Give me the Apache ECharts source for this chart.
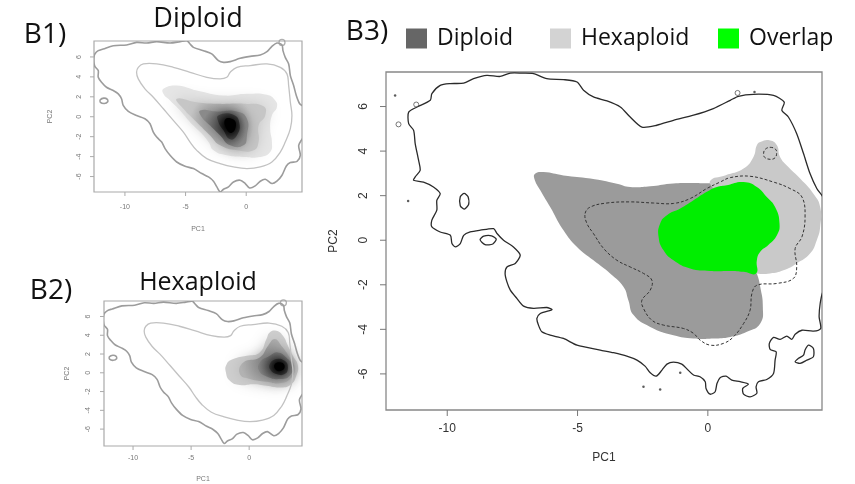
<!DOCTYPE html>
<html>
<head>
<meta charset="utf-8">
<script src="https://cdn.jsdelivr.net/npm/echarts@6/dist/echarts.min.js"></script>
<style>
html, body { margin: 0; padding: 0; background: #fff; }
#chart { width: 855px; height: 484px; }
</style>
</head>
<body>
<div id="chart"></div>
<script>
// axis ticks and extents (PC units)
const xTicks = [-10, -5, 0];
const yTicks = [-6, -4, -2, 0, 2, 4, 6];
const b1XRange = [-12.55, 4.6];
const b1YRange = [-7.55, 7.6];
const b2XRange = [-12.5, 4.55];
const b2YRange = [-7.8, 7.65];
const b3XRange = [-12.35, 4.38];
const b3YRange = [-7.62, 7.55];

// B1 / B2 background contours (same in both small panels)
const smallOuter = [[-12.56,5.46],[-12.48,5.06],[-12.2,4.63],[-12.2,3.96],[-11.93,3.46],[-11.52,2.96],[-10.96,2.63],[-10.55,2.3],[-10.28,1.8],[-10.14,1.13],[-9.72,0.53],[-9.04,0.13],[-8.35,-0.2],[-7.93,-0.7],[-7.66,-1.54],[-7.38,-2.04],[-6.97,-2.54],[-6.69,-3.2],[-6.28,-3.87],[-5.73,-4.54],[-5.04,-4.97],[-4.35,-5.2],[-3.66,-5.7],[-3.11,-6.04],[-2.7,-6.47],[-2.42,-7.04],[-2.15,-7.54],[-1.87,-7.27],[-1.46,-7.04],[-1.05,-6.54],[-0.5,-6.37],[-0.08,-6.7],[0.28,-7.14],[0.74,-6.94],[1.16,-6.47],[1.57,-6.27],[2.12,-6.7],[2.53,-6.47],[2.95,-5.87],[3.31,-4.94],[3.64,-4.6],[4.19,-4.47],[4.46,-3.87],[4.33,-2.87],[4.74,-1.87],[4.74,0.96],[4.41,1.3],[4.13,2.13],[3.91,3.13],[3.64,4.13],[3.5,5.3],[3.22,5.96],[3.03,6.63],[2.95,7.2],[2.53,7.4],[2.12,7.06],[1.71,6.53],[1.16,6.2],[0.33,6.06],[-0.5,5.86],[-1.32,5.53],[-1.87,5.46],[-2.29,5.63],[-2.84,6.3],[-3.53,6.63],[-4.35,6.96],[-4.63,7.3],[-4.9,7.63],[-5.45,7.53],[-6.28,7.4],[-7.38,7.53],[-8.21,7.4],[-9.04,7.46],[-9.86,7.2],[-10.96,7.13],[-11.79,6.8],[-12.2,6.63],[-12.48,6.3],[-12.56,5.96]];
const smallLoop = [[-11.74,1.87],[-11.45,1.75],[-11.42,1.5],[-11.7,1.33],[-12.02,1.45],[-12.03,1.7]];
const smallSpeck = [[2.95,7.46]];
const smallInner = [[-8.9,4.96],[-8.48,5.3],[-7.38,5.3],[-6.01,4.96],[-4.63,4.46],[-3.25,3.96],[-2.15,3.8],[-1.6,3.96],[-1.32,4.46],[-0.77,4.96],[0.33,5.13],[1.71,5.3],[2.81,4.96],[3.36,4.3],[3.5,3.13],[3.64,1.46],[3.77,0.13],[3.64,-1.2],[3.22,-2.54],[2.81,-3.54],[2.12,-4.54],[1.16,-5.04],[0.06,-5.2],[-1.05,-5.04],[-2.15,-4.7],[-3.25,-4.2],[-4.08,-3.37],[-4.63,-2.54],[-5.18,-1.54],[-6.01,-0.37],[-6.83,0.8],[-7.66,1.96],[-8.35,2.8],[-8.9,3.8],[-9.04,4.46]];

// B1 diploid density, outer level to peak
const b1Density = [
  [[-6.83,2.8],[-5.73,3.13],[-4.08,2.63],[-1.87,2.13],[0.06,2.3],[1.71,2.2],[2.4,1.63],[2.53,0.96],[2.12,0.13],[1.98,-1.2],[2.12,-2.54],[1.98,-3.54],[1.16,-4.04],[-0.22,-4.04],[-1.6,-3.87],[-2.7,-3.37],[-3.11,-2.54],[-3.8,-1.54],[-4.63,-0.54],[-5.45,0.63],[-6.28,1.63],[-6.83,2.3]],
  [[-5.73,1.8],[-4.08,1.46],[-2.42,1.3],[-0.22,1.3],[1.43,1.06],[1.57,0.13],[1.02,-0.87],[1.02,-2.54],[0.61,-3.37],[-0.77,-3.37],[-2.15,-2.87],[-2.98,-1.87],[-4.08,-0.54],[-5.18,0.8]],
  [[-3.8,0.63],[-2.42,0.53],[-0.77,0.53],[0.06,-0.2],[0.06,-1.87],[-0.22,-2.87],[-1.32,-2.87],[-2.15,-1.87],[-2.98,-0.87],[-3.66,-0.04]],
  [[-2.29,0.13],[-1.05,0.2],[-0.55,-0.7],[-0.77,-1.87],[-1.32,-2.27],[-1.87,-1.37],[-2.29,-0.54]],
  [[-1.74,-0.27],[-1.05,-0.27],[-0.85,-0.94],[-1.18,-1.6],[-1.6,-1.27]]
];
// B2 hexaploid density
const b2Density = [
  [[-1.94,0.92],[-1.37,1.46],[-0.23,1.81],[0.91,2.17],[1.49,3.59],[1.77,4.3],[2.34,4.47],[2.91,3.94],[3.34,2.88],[3.77,1.81],[4.2,0.75],[4.06,-0.32],[3.63,-1.21],[2.77,-1.56],[1.49,-1.38],[0.34,-1.21],[-0.8,-1.31],[-1.66,-0.85],[-2.0,0.04]],
  [[-0.51,1.1],[0.91,1.63],[1.63,2.88],[2.2,3.59],[2.77,2.88],[3.49,1.63],[3.91,0.57],[3.63,-0.5],[2.77,-1.1],[1.49,-0.96],[0.06,-0.67],[-0.8,-0.14]],
  [[0.91,1.1],[1.77,1.81],[2.49,2.17],[3.2,1.63],[3.71,0.75],[3.49,-0.32],[2.63,-0.67],[1.49,-0.39],[0.86,0.21]],
  [[1.77,0.92],[2.34,1.46],[3.06,1.28],[3.34,0.57],[3.06,-0.14],[2.34,-0.14],[1.83,0.32]],
  [[2.2,0.92],[2.77,1.1],[3.06,0.67],[2.77,0.21],[2.29,0.32]]
];

// B3 region fills
const diploidFill = [[-6.62,2.99],[-6.31,3.06],[-5.54,2.91],[-4.51,2.77],[-3.49,2.54],[-2.98,2.39],[-2.21,2.42],[-1.45,2.54],[-0.68,2.57],[0.21,2.57],[0.47,2.65],[1.2,2.5],[1.85,2.25],[2.4,1.5],[2.6,0.7],[2.2,-0.15],[1.85,-0.6],[1.78,-1.3],[1.88,-1.49],[2.01,-2.09],[2.11,-2.99],[2.01,-3.74],[1.5,-4.11],[0.86,-4.34],[0.21,-4.41],[-0.55,-4.41],[-1.32,-4.26],[-2.21,-3.89],[-2.85,-3.36],[-3.05,-2.69],[-3.24,-2.09],[-3.75,-1.49],[-4.39,-0.9],[-5.02,-0.3],[-5.54,0.45],[-6.05,1.49],[-6.43,2.24],[-6.66,2.77]];
const hexaploidFill = [[0.09,2.67],[0.66,2.91],[1.37,3.22],[1.75,3.74],[1.88,4.26],[2.01,4.41],[2.39,4.48],[2.65,4.26],[2.77,3.74],[3.09,3.29],[3.54,2.77],[4.05,2.09],[4.31,1.49],[4.31,0.6],[4.18,0],[3.92,-0.6],[3.41,-1.04],[2.9,-1.35],[2.39,-1.49],[1.88,-1.49],[1.4,-1.3],[0.1,-1.25],[-0.68,-1.15],[-1.25,-0.8],[-1.75,0.15],[-1.7,0.75],[-1.0,1.35],[-0.1,2.0],[0.2,2.2]];
const overlapFill = [[0.73,2.47],[1.37,2.61],[1.88,2.39],[2.26,1.94],[2.58,1.49],[2.75,0.75],[2.65,0.22],[2.32,-0.22],[2.01,-0.52],[1.88,-0.9],[1.85,-1.49],[1.37,-1.42],[0.86,-1.38],[0.09,-1.38],[-0.68,-1.27],[-1.32,-0.9],[-1.7,-0.45],[-1.89,0.15],[-1.83,0.75],[-1.57,1.12],[-1.06,1.42],[-0.55,1.79],[-0.04,2.17],[0.35,2.39]];

// B3 contours
const b3Dashed = [[-4.71,1.2],[-4.51,1.49],[-3.87,1.67],[-2.98,1.72],[-2.09,1.67],[-1.32,1.65],[-0.68,1.87],[-0.04,2.32],[0.47,2.61],[0.86,2.81],[1.62,2.87],[2.52,2.61],[3.15,2.32],[3.61,1.94],[3.73,1.04],[3.61,0.15],[3.35,-0.37],[3.41,-1.2],[3.28,-1.72],[2.65,-1.94],[1.88,-2.02],[1.69,-2.39],[1.62,-3.14],[1.37,-3.74],[0.98,-4.34],[0.6,-4.63],[0.09,-4.71],[-0.3,-4.48],[-0.55,-4.18],[-0.94,-3.96],[-1.7,-3.81],[-2.15,-3.59],[-2.47,-3.06],[-2.53,-2.69],[-2.21,-2.24],[-2.15,-1.79],[-2.47,-1.49],[-2.98,-1.2],[-3.49,-0.9],[-4.0,-0.37],[-4.39,0.3],[-4.64,0.75]];
const b3DashedSmall = [[2.39,4.17],[2.6,4.08],[2.64,3.9],[2.58,3.7],[2.39,3.63],[2.18,3.72],[2.14,3.9],[2.2,4.08]];
const b3Outer = [[-10.27,6.95],[-9.88,7.03],[-9.37,7.05],[-8.99,7.25],[-8.48,7.4],[-7.97,7.35],[-7.58,7.5],[-7.13,7.5],[-6.69,7.48],[-6.18,7.25],[-5.54,7.21],[-5.02,7.1],[-4.77,6.73],[-4.39,6.43],[-3.87,6.25],[-3.36,5.98],[-2.98,5.53],[-2.53,5.08],[-1.96,5.16],[-1.32,5.38],[-0.55,5.61],[0.21,5.91],[0.86,6.28],[1.17,6.46],[1.75,6.55],[2.52,6.5],[2.93,6.2],[2.84,5.83],[3.09,5.53],[3.41,4.78],[3.67,3.89],[3.92,2.99],[4.18,2.32],[4.37,2.02],[4.6,1.6],[4.6,-2.0],[4.41,-2.32],[4.31,-2.84],[4.27,-3.44],[4.33,-3.96],[4.05,-4.08],[3.61,-4.04],[3.35,-4.22],[3.22,-4.45],[3.03,-4.3],[2.77,-4.45],[2.52,-4.36],[2.36,-4.63],[2.39,-4.9],[2.62,-5.01],[2.58,-5.38],[2.52,-5.98],[2.26,-6.25],[1.94,-6.35],[1.85,-6.58],[1.88,-6.87],[1.62,-7.03],[1.37,-6.91],[1.34,-6.65],[1.56,-6.46],[1.24,-6.35],[0.92,-6.28],[0.7,-6.1],[0.47,-6.17],[0.35,-6.43],[0.28,-6.8],[0.09,-6.91],[-0.07,-6.65],[-0.1,-6.35],[-0.3,-6.13],[-0.55,-6.05],[-0.78,-5.8],[-1.0,-5.56],[-1.32,-5.47],[-1.57,-5.56],[-1.76,-5.83],[-1.98,-6.1],[-2.21,-5.95],[-2.41,-5.65],[-2.72,-5.38],[-3.11,-5.2],[-3.62,-5.05],[-4.13,-4.93],[-5.02,-4.71],[-5.54,-4.41],[-6.05,-4.26],[-6.37,-4.11],[-6.5,-3.81],[-6.56,-3.51],[-6.43,-3.29],[-6.11,-3.17],[-5.98,-3.11],[-6.18,-3.02],[-6.69,-3.06],[-7.07,-2.96],[-7.33,-2.61],[-7.58,-2.24],[-7.71,-1.87],[-7.78,-1.49],[-7.71,-1.2],[-7.39,-1.04],[-7.2,-0.67],[-7.46,-0.3],[-7.84,0],[-8.09,0.3],[-8.22,0.52],[-8.73,0.45],[-9.12,0.37],[-9.37,0.22],[-9.5,-0.15],[-9.69,-0.3],[-9.82,-0.15],[-9.88,0.22],[-10.27,0.37],[-10.59,0.6],[-10.59,0.9],[-10.4,1.35],[-10.4,1.79],[-10.27,2.09],[-10.53,2.39],[-10.91,2.61],[-11.29,2.69],[-11.23,2.84],[-11.04,3.14],[-11.1,3.59],[-11.23,4.34],[-11.29,4.93],[-11.48,5.23],[-11.48,5.75],[-11.16,5.98],[-10.65,6.28],[-10.59,6.58]];
const b3IslandA = [[-9.35,2.1],[-9.2,1.95],[-9.18,1.6],[-9.35,1.4],[-9.5,1.55],[-9.5,1.95]];
const b3IslandB = [[-8.74,0.02],[-8.6,0.18],[-8.3,0.2],[-8.12,0.05],[-8.25,-0.17],[-8.55,-0.2]];
const b3IslandC = [[3.86,-4.71],[4.05,-4.86],[4.05,-5.23],[3.8,-5.38],[3.54,-5.53],[3.35,-5.46],[3.48,-5.3],[3.67,-5.16],[3.73,-4.93]];
const b3Rings = [[-11.19,6.09],[-11.87,5.2],[1.14,6.61]];
const b3Dots = [[-12.0,6.5],[-11.5,1.76],[1.79,6.65],[-2.47,-6.58],[-1.83,-6.7],[-1.06,-5.95]];

const b1Grays = ['#e6e6e6', '#c6c6c6', '#8a8a8a', '#404040', '#000000'];
const b2Grays = ['#cfcfcf', '#b2b2b2', '#808080', '#3a3a3a', '#000000'];
const blurs = [0, 16, 14, 12, 10];

function poly(name, gi, rings, st, smooth) {
  return {
    type: 'custom', name: name, coordinateSystem: 'cartesian2d',
    xAxisIndex: gi, yAxisIndex: gi, clip: true, silent: true,
    itemStyle: { color: typeof st.fill === 'string' && st.fill !== 'none' ? st.fill : (st.stroke || '#999') },
    dimensions: ['x', 'y', 'idx'],
    encode: { x: 0, y: 1 },
    data: rings.map((r, i) => [r[0][0], r[0][1], i]),
    renderItem: function (params, api) {
      const ring = rings[api.value(2)];
      return {
        type: 'polygon',
        shape: { points: ring.map(p => api.coord(p)), smooth: smooth },
        style: Object.assign({ fill: 'none', stroke: 'none' }, st)
      };
    }
  };
}

// R-style outward tick marks on the bottom and left box edges
function tickSeries(gi, xr, yr, len, color) {
  const pts = xTicks.map(v => [v, yr[0], 0]).concat(yTicks.map(v => [xr[0], v, 1]));
  return {
    type: 'custom', coordinateSystem: 'cartesian2d', xAxisIndex: gi, yAxisIndex: gi,
    clip: false, silent: true, dimensions: ['x', 'y', 'side'], encode: { x: 0, y: 1 },
    data: pts,
    renderItem: function (params, api) {
      const p = api.coord([api.value(0), api.value(1)]);
      const vertical = api.value(2) === 0;
      return {
        type: 'line',
        shape: vertical ? { x1: p[0], y1: p[1], x2: p[0], y2: p[1] + len } : { x1: p[0], y1: p[1], x2: p[0] - len, y2: p[1] },
        style: { stroke: color, lineWidth: 1 }
      };
    }
  };
}

// each level shades from its own grey at the rim towards the next level's grey
function densityLevels(gi, levels, grays) {
  return levels.map((ring, i) => {
    const inner = grays[Math.min(i + 1, grays.length - 1)];
    const fill = i === 0 ? grays[0] : {
      type: 'radial', x: 0.5, y: 0.5, r: 0.6,
      colorStops: [{ offset: 0, color: inner }, { offset: 1, color: grays[i] }]
    };
    return poly('d' + gi + '_' + i, gi, [ring], {
      fill: fill, shadowBlur: blurs[i], shadowColor: grays[i]
    }, 0.5);
  });
}

function axesFor(gi, xr, yr, o) {
  const x = {
    gridIndex: gi, type: 'value', min: xr[0], max: xr[1],
    axisLine: { show: false, onZero: false }, splitLine: { show: false }, axisTick: { show: false },
    axisLabel: { customValues: xTicks, fontSize: o.fs, color: o.text, margin: o.xm, fontFamily: 'Liberation Sans' },
    name: 'PC1', nameLocation: 'middle', nameGap: o.xg,
    nameTextStyle: { fontSize: o.fs, color: o.text, fontFamily: 'Liberation Sans' }
  };
  const y = {
    gridIndex: gi, type: 'value', min: yr[0], max: yr[1],
    axisLine: { show: false, onZero: false }, splitLine: { show: false }, axisTick: { show: false },
    axisLabel: { customValues: yTicks, rotate: 90, fontSize: o.fs, color: o.text, margin: o.ym, fontFamily: 'Liberation Sans' },
    name: 'PC2', nameLocation: 'middle', nameGap: o.yg,
    nameTextStyle: { fontSize: o.fs, color: o.text, fontFamily: 'Liberation Sans' }
  };
  return [x, y];
}

const smallStyle = { text: '#777', fs: 7 };
const a1 = axesFor(0, b1XRange, b1YRange, Object.assign({ xm: 12, xg: 34, ym: 11, yg: 40 }, smallStyle));
const a2 = axesFor(1, b2XRange, b2YRange, Object.assign({ xm: 9, xg: 30, ym: 12, yg: 33 }, smallStyle));
const a3 = axesFor(2, b3XRange, b3YRange, { text: '#333', fs: 12, xm: 13, xg: 42, ym: 16, yg: 46 });

const smallContour = (gi) => [
  poly('outer' + gi, gi, [smallOuter, smallLoop], { stroke: '#9c9c9c', lineWidth: 1.6 }, 0.3),
  poly('inner' + gi, gi, [smallInner], { stroke: '#c2c2c2', lineWidth: 1.3 }, 0.4),
  { type: 'scatter', xAxisIndex: gi, yAxisIndex: gi, data: smallSpeck, symbolSize: 6, silent: true,
    itemStyle: { color: 'transparent', borderColor: '#9c9c9c', borderWidth: 1.3 } }
];

const legendCommon = {
  icon: 'rect', itemWidth: 21, itemHeight: 20, top: 22, selectedMode: false,
  textStyle: { fontSize: 23, color: '#111', fontFamily: 'Open Sans', padding: [0, 0, 0, 5] }
};

const textEl = (t, x, y, size) => ({
  type: 'text', x: x, y: y, silent: true,
  style: { text: t, fill: '#111', font: size + 'px "Open Sans"', align: 'center', verticalAlign: 'middle', textAlign: 'center', textVerticalAlign: 'middle' }
});

const chart = echarts.init(document.getElementById('chart'));
chart.setOption({
  animation: false,
  backgroundColor: '#fff',
  grid: [
    { left: 94, top: 41, width: 208, height: 151, show: true, borderColor: '#aaa', borderWidth: 1.2 },
    { left: 104, top: 301, width: 198, height: 145, show: true, borderColor: '#aaa', borderWidth: 1.2 },
    { left: 386, top: 72, width: 436, height: 338, show: true, borderColor: '#888', borderWidth: 1.3 }
  ],
  xAxis: [a1[0], a2[0], a3[0]],
  yAxis: [a1[1], a2[1], a3[1]],
  legend: [
    Object.assign({ left: 401, data: [{ name: 'Diploid', itemStyle: { color: '#666' } }] }, legendCommon),
    Object.assign({ left: 545, data: [{ name: 'Hexaploid', itemStyle: { color: '#d3d3d3' } }] }, legendCommon),
    Object.assign({ left: 713, data: [{ name: 'Overlap', itemStyle: { color: '#00ff00' } }] }, legendCommon)
  ],
  graphic: [
    textEl('B1)', 45, 35, 28),
    textEl('Diploid', 198, 19, 27),
    textEl('B2)', 51, 291, 28),
    textEl('Hexaploid', 198, 283, 25),
    textEl('B3)', 367, 32, 28)
  ],
  series: [].concat(
    densityLevels(0, b1Density, b1Grays),
    smallContour(0),
    [tickSeries(0, b1XRange, b1YRange, 4, '#aaa')],
    densityLevels(1, b2Density, b2Grays),
    smallContour(1),
    [tickSeries(1, b2XRange, b2YRange, 4, '#aaa')],
    [
      poly('Diploid', 2, [diploidFill], { fill: '#9b9b9b' }, 0.5),
      poly('Hexaploid', 2, [hexaploidFill], { fill: '#c9c9c9' }, 0.5),
      poly('Overlap', 2, [overlapFill], { fill: '#00ee00' }, 0.5),
      poly('dashed', 2, [b3Dashed, b3DashedSmall], { stroke: '#333', lineWidth: 1, lineDash: [3, 2] }, 0.4),
      poly('outer', 2, [b3Outer, b3IslandA, b3IslandB, b3IslandC], { stroke: '#2a2a2a', lineWidth: 1.3 }, 0.25),
      { type: 'scatter', xAxisIndex: 2, yAxisIndex: 2, data: b3Rings, symbolSize: 5, silent: true,
        itemStyle: { color: 'transparent', borderColor: '#555', borderWidth: 1 } },
      { type: 'scatter', xAxisIndex: 2, yAxisIndex: 2, data: b3Dots, symbolSize: 2.5, silent: true,
        itemStyle: { color: '#333' } },
      tickSeries(2, b3XRange, b3YRange, 6, '#777')
    ]
  )
});
</script>
</body>
</html>
